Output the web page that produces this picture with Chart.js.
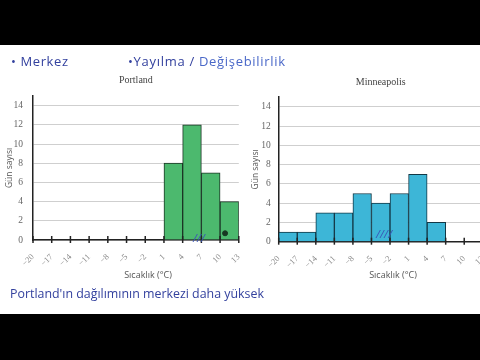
<!DOCTYPE html>
<html>
<head>
<meta charset="utf-8">
<script src="https://cdn.jsdelivr.net/npm/chart.js@4/dist/chart.umd.min.js"></script>
<style>
  body { margin: 0; background: #000; width: 480px; height: 360px; overflow: hidden; position: relative; }
  #paper { position: absolute; left: 0; top: 45px; width: 480px; height: 269px; background: #fff; overflow: hidden; }
  canvas { position: absolute; top: 0; }
  .hand { position: absolute; font-family: 'Open Sans', sans-serif; font-size: 13px; color: #33419e; white-space: nowrap; letter-spacing: 0.2px; }
  .xt { position: absolute; font-family: 'Open Sans', sans-serif; font-size: 9px; color: #555; white-space: nowrap; transform: translateX(-50%); }
</style>
</head>
<body>
<div id="paper">
  <canvas id="left" width="250" height="269" style="left:0"></canvas>
  <canvas id="right" width="250" height="269" style="left:244px"></canvas>
  <div class="hand" style="left:11px;top:7px;letter-spacing:0.6px">• Merkez</div>
  <div class="hand" style="left:128px;top:7px;letter-spacing:0.7px">•Yayılma / <span style="color:#4a68c8">Değişebilirlik</span></div>
  <div class="hand" style="left:10px;top:240px;font-size:12.4px;letter-spacing:0">Portland'ın dağılımının merkezi daha yüksek</div>
  <div class="hand" style="left:193px;top:185px;font-size:11px;font-style:italic;color:#3a55b8">///</div>
  <div class="hand" style="left:376px;top:181px;font-size:11px;font-style:italic;color:#3a55b8">////</div>
  <div class="xt" style="left:148px;top:223px">Sıcaklık (°C)</div>
  <div class="xt" style="left:393px;top:223px">Sıcaklık (°C)</div>
</div>
<script>
// bin starts (°C), bins are 3 degrees wide
var portlandStart = [1, 4, 7, 10];
var portlandDays = [8, 12, 7, 4];
var minneapolisStart = [-20, -17, -14, -11, -8, -5, -2, 1, 4];
var minneapolisDays = [1, 1, 3, 3, 5, 4, 5, 7, 2];
var binWidth = 3;
var yTicks = [0, 2, 4, 6, 8, 10, 12, 14];
// hand-drawn dot on the Portland chart
var dotX = [10.8];
var dotY = [0.7];

var xMin = -20, xMax = 13, yMax = 15;

function toBars(starts, days) {
    return starts.map(function (s, i) {
        return { x: s + binWidth / 2, y: days[i] };
    });
}

var tickMarks = {
    id: 'tickMarks',
    afterDraw: function (chart) {
        var xs = chart.scales.x;
        var c = chart.ctx;
        c.save();
        c.strokeStyle = '#222';
        c.lineWidth = 1.5;
        xs.ticks.forEach(function (t) {
            var px = xs.getPixelForValue(t.value);
            c.beginPath();
            c.moveTo(px, xs.top - 4);
            c.lineTo(px, xs.top + 3);
            c.stroke();
        });
        c.restore();
    }
};

function makeChart(id, title, starts, days, fill, edge, lay, extra) {
    var datasets = [{
        data: toBars(starts, days),
        backgroundColor: fill,
        borderColor: edge,
        borderWidth: 1,
        borderSkipped: 'bottom',
        barPercentage: 1,
        categoryPercentage: 1
    }];
    if (extra) datasets.push(extra);
    return new Chart(document.getElementById(id), {
        type: 'bar',
        data: { datasets: datasets },
        plugins: [tickMarks],
        options: {
            responsive: false,
            animation: false,
            devicePixelRatio: 1,
            layout: { padding: { left: 0, right: lay.right, top: 0, bottom: 0 } },
            plugins: {
                legend: { display: false },
                tooltip: { enabled: false },
                title: {
                    display: true,
                    text: title,
                    fullSize: false,
                    color: '#444',
                    font: { family: 'Liberation Serif', size: 10, weight: 'normal', lineHeight: 1.2 },
                    padding: { top: lay.titleTop, bottom: lay.titleBottom }
                }
            },
            scales: {
                x: {
                    type: 'linear',
                    min: xMin,
                    max: xMax,
                    offset: false,
                    z: 1,
                    afterFit: function (s) { s.height = lay.xh; },
                    grid: { display: false, offset: false },
                    border: { display: true, color: '#222', width: 1.5 },
                    ticks: {
                        stepSize: 3,
                        autoSkip: false,
                        minRotation: 45,
                        maxRotation: 45,
                        padding: 4,
                        color: '#888',
                        font: { family: 'Liberation Serif', size: 8.5 },
                        callback: function (v) { return v < 0 ? '\u2212' + Math.abs(v) : '' + v; }
                    }
                },
                y: {
                    min: 0,
                    max: yMax,
                    afterFit: function (s) { s.width = lay.yw; },
                    afterBuildTicks: function (s) {
                        s.ticks = yTicks.map(function (v) { return { value: v }; });
                    },
                    grid: { color: '#cfcfcf', lineWidth: 1, drawTicks: false },
                    border: { display: true, color: '#222', width: 1.5 },
                    ticks: {
                        padding: lay.tickPad,
                        color: '#666',
                        font: { family: 'Liberation Serif', size: 9.5 }
                    },
                    title: {
                        display: true,
                        text: 'Gün sayısı',
                        color: '#555',
                        font: { family: 'Open Sans', size: 8.5 },
                        padding: { top: lay.yTitlePad, bottom: 0 }
                    }
                }
            }
        }
    });
}

makeChart('left', 'Portland', portlandStart, portlandDays, '#4cb96e', '#1c3526',
    { right: 10, titleTop: 29.7, titleBottom: 9.3, xh: 74, yw: 33, tickPad: 10, yTitlePad: 4.8 },
    {
        type: 'scatter',
        order: -1,
        data: dotX.map(function (x, i) { return { x: x, y: dotY[i] }; }),
        backgroundColor: '#173822',
        borderColor: '#173822',
        pointRadius: 2.5
    });

makeChart('right', 'Minneapolis', minneapolisStart, minneapolisDays, '#3db6d7', '#123846',
    { right: 9.6, titleTop: 31, titleBottom: 9.1, xh: 72.3, yw: 34.7, tickPad: 8, yTitlePad: 6.8 });
</script>
</body>
</html>
